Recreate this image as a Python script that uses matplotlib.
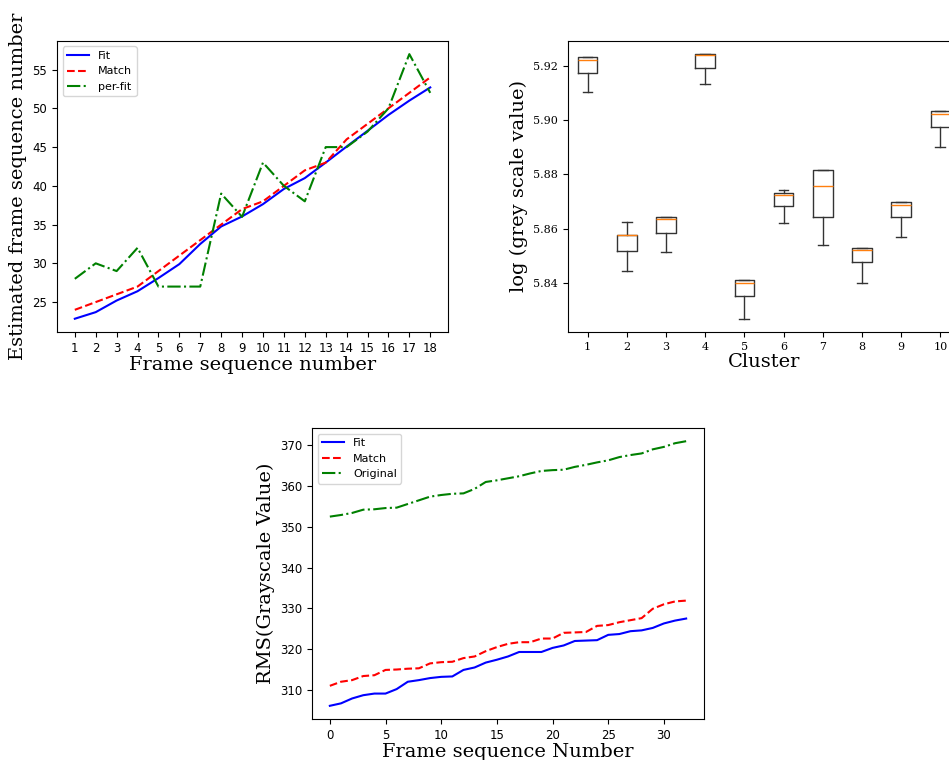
import matplotlib
matplotlib.use('Agg')
import matplotlib.pyplot as plt

# frame sequence estimation (top left)
frames = list(range(1, 19))
fit_est = [22.85, 23.7, 25.2, 26.4, 28.1, 29.9, 32.5, 34.76, 36.05, 37.64,
           39.6, 41.0, 43.0, 45.07, 47.1, 49.15, 51.0, 52.7]
match_est = [24, 25, 26, 27, 29, 31, 33, 35, 37, 38, 40, 42, 43, 46, 48, 50, 52, 54]
perfit_est = [28, 30, 29, 32, 27, 27, 27, 39, 36, 43, 40, 38, 45, 45, 47, 50, 57, 52]

# grey scale statistics per cluster (top right)
clusters = list(range(1, 11))
whislo = [5.9103, 5.8443, 5.8513, 5.9133, 5.8269, 5.8621, 5.8540, 5.8402, 5.8569, 5.8903]
q1 = [5.9173, 5.8519, 5.8585, 5.9193, 5.8353, 5.8685, 5.8642, 5.8476, 5.8642, 5.8975]
med = [5.9222, 5.8577, 5.8637, 5.9239, 5.8400, 5.8726, 5.8758, 5.8523, 5.8688, 5.9022]
q3 = [5.9231, 5.8578, 5.8642, 5.9242, 5.8410, 5.8731, 5.8816, 5.8531, 5.8697, 5.9034]
whishi = [5.9231, 5.8625, 5.8642, 5.9245, 5.8410, 5.8742, 5.8816, 5.8531, 5.8697, 5.9034]

# RMS per frame (bottom)
rms_frames = list(range(33))
rms_fit = [306.1, 306.7, 307.9, 308.7, 309.1, 309.1, 310.2, 312.0, 312.4, 312.9,
           313.2, 313.3, 314.9, 315.5, 316.7, 317.4, 318.2, 319.3, 319.3, 319.3,
           320.3, 320.9, 322.0, 322.1, 322.2, 323.5, 323.7, 324.4, 324.6, 325.2,
           326.3, 327.0, 327.5]
rms_match = [311.0, 312.0, 312.4, 313.4, 313.6, 314.9, 315.0, 315.2, 315.3, 316.5,
             316.8, 316.9, 317.8, 318.2, 319.5, 320.5, 321.3, 321.7, 321.7, 322.6,
             322.6, 324.0, 324.1, 324.2, 325.7, 325.9, 326.6, 327.1, 327.6, 329.9,
             331.0, 331.7, 331.9]
rms_orig = [352.5, 352.9, 353.4, 354.2, 354.3, 354.6, 354.7, 355.6, 356.5, 357.4,
            357.8, 358.1, 358.2, 359.3, 361.0, 361.4, 361.9, 362.4, 363.1, 363.7,
            363.9, 364.0, 364.7, 365.2, 365.8, 366.3, 367.1, 367.6, 368.0, 369.0,
            369.6, 370.5, 371.0]

label_font = {'family': 'DejaVu Serif', 'size': 14}
legend_size = 8

fig = plt.figure(figsize=(9.49, 7.6), dpi=100)

ax1 = fig.add_axes([0.0601, 0.5632, 0.412, 0.383])
ax1.plot(frames, fit_est, 'b-', label='Fit')
ax1.plot(frames, match_est, 'r--', label='Match')
ax1.plot(frames, perfit_est, 'g-.', label='per-fit')
ax1.set_xticks(frames)
ax1.tick_params(labelsize=8.5)
ax1.set_xlabel('Frame sequence number', fontdict=label_font, labelpad=1)
ax1.set_ylabel('Estimated frame sequence number', fontdict=label_font)
ax1.legend(loc='upper left', fontsize=legend_size)

ax2 = fig.add_axes([0.5985, 0.5632, 0.413, 0.383])
stats = []
for i in range(len(clusters)):
    stats.append({'whislo': whislo[i], 'q1': q1[i], 'med': med[i],
                  'q3': q3[i], 'whishi': whishi[i], 'fliers': []})
ax2.bxp(stats, positions=clusters, widths=0.5,
        boxprops={'color': '#333333'}, whiskerprops={'color': '#333333'},
        capprops={'color': '#333333'}, medianprops={'color': 'C1'})
ax2.set_ylim(5.8220, 5.9292)
ax2.set_yticks([5.84, 5.86, 5.88, 5.90, 5.92])
for lbl in ax2.get_xticklabels() + ax2.get_yticklabels():
    lbl.set_fontfamily('DejaVu Serif')
    lbl.set_fontsize(8)
ax2.set_xlabel('Cluster', fontdict=label_font, labelpad=1)
ax2.set_ylabel('log (grey scale value)', fontdict=label_font)

ax3 = fig.add_axes([0.3288, 0.0539, 0.413, 0.383])
ax3.plot(rms_frames, rms_fit, 'b-', label='Fit')
ax3.plot(rms_frames, rms_match, 'r--', label='Match')
ax3.plot(rms_frames, rms_orig, 'g-.', label='Original')
ax3.tick_params(labelsize=8.5)
ax3.set_xlabel('Frame sequence Number', fontdict=label_font, labelpad=1)
ax3.set_ylabel('RMS(Grayscale Value)', fontdict=label_font)
ax3.legend(loc='upper left', fontsize=legend_size)

fig.savefig('out.png', dpi=100)
